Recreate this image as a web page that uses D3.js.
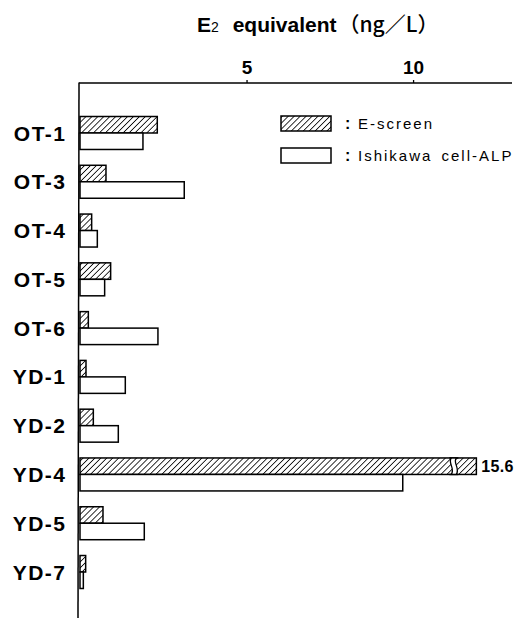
<!DOCTYPE html>
<html><head><meta charset="utf-8">
<script src="https://cdn.jsdelivr.net/npm/d3@7"></script>
<style>
html,body{margin:0;padding:0;background:#fff;}
svg{display:block;font-family:"Liberation Sans",Arial,sans-serif;}
</style></head>
<body>
<svg id="chart" width="515" height="618"></svg>
<script>
const categories = ["OT-1","OT-3","OT-4","OT-5","OT-6","YD-1","YD-2","YD-4","YD-5","YD-7"];
const eScreen    = [2.32, 0.78, 0.35, 0.92, 0.25, 0.18, 0.40, 15.6, 0.69, 0.17];
const ishikawa   = [1.89, 3.13, 0.52, 0.74, 2.34, 1.36, 1.15, 9.69, 1.93, 0.10];
const seriesNames = ["E-screen","Ishikawa cell-ALP"];
const tickValues = [5, 10];
const breakAt = 11.9;      // axis value where broken bars are drawn to
const breakLabel = "15.6";

const svg = d3.select("#chart");
const x = d3.scaleLinear().domain([0, 13]).range([80, 513]);
const y = d3.scaleBand().domain(categories).range([108.6, 596.4]).paddingInner(0.324).paddingOuter(0.162);
const ys = d3.scaleBand().domain(seriesNames).range([0, y.bandwidth()]);

const defs = svg.append("defs");
const pat = defs.append("pattern").attr("id","hatch").attr("patternUnits","userSpaceOnUse")
  .attr("width",4.2).attr("height",4.2).attr("patternTransform","rotate(45)");
pat.append("rect").attr("width",4.2).attr("height",4.2).attr("fill","#fff");
pat.append("line").attr("x1",0).attr("y1",0).attr("x2",0).attr("y2",4.2).attr("stroke","#000").attr("stroke-width",1.6);

// title
const title = svg.append("text").attr("x",197).attr("y",32).attr("font-size",21).attr("font-weight","bold").attr("fill","#000");
title.append("tspan").text("E");
title.append("tspan").attr("font-size",14).attr("font-weight","normal").text("2");
title.append("tspan").attr("dx",8).text(" equivalent");
title.append("tspan").attr("dx",2).attr("font-family","Noto Sans CJK JP, sans-serif").attr("font-weight","500").text("（ng／L）");

// top axis
const ax = d3.axisTop(x).tickValues(tickValues).tickSize(3).tickPadding(6).tickFormat(d3.format("d"));
const gx = svg.append("g").attr("transform","translate(0,83)").call(ax);
gx.select(".domain").attr("d", `M${x(0)-1},0H${x.range()[1]-1}`).attr("stroke-width",1.4);
gx.selectAll(".tick line").attr("stroke-width",1.3);
gx.selectAll(".tick text").attr("font-size",19).attr("font-weight","bold").attr("font-family","Liberation Sans, Arial, sans-serif").attr("fill","#000");

// left axis line
svg.append("line").attr("x1",x(0)-1).attr("x2",x(0)-2).attr("y1",82.5).attr("y2",618).attr("stroke","#000").attr("stroke-width",1.5);

// category labels
svg.append("g").selectAll("text").data(categories).join("text")
  .attr("x",66.5).attr("y",d=>y(d)+y.bandwidth()/2).attr("dy","0.36em")
  .attr("text-anchor","end").attr("font-size",21).attr("font-weight","bold").attr("letter-spacing",1.5).attr("fill","#000")
  .text(d=>d);

// bars
const rows = categories.map((c,i)=>({c, vals:[{s:seriesNames[0], v:eScreen[i]},{s:seriesNames[1], v:ishikawa[i]}]}));
const g = svg.append("g");
rows.forEach(r=>{
  r.vals.forEach(d=>{
    const broken = d.v > breakAt;
    const w = x(broken ? breakAt : d.v) - x(0);
    const yy = y(r.c) + ys(d.s);
    g.append("rect").attr("x",x(0)).attr("y",yy).attr("width",w).attr("height",ys.bandwidth())
      .attr("fill", d.s===seriesNames[0] ? "url(#hatch)" : "#fff")
      .attr("stroke","#000").attr("stroke-width",1.5);
    if (broken) {
      const bx = x(breakAt) - 25, h = ys.bandwidth();
      g.append("path").attr("d", `M${bx},${yy} C${bx-4},${yy+h*0.3} ${bx+4},${yy+h*0.6} ${bx},${yy+h} L${bx+5},${yy+h} C${bx+9},${yy+h*0.6} ${bx+1},${yy+h*0.3} ${bx+5},${yy} Z`)
        .attr("fill","#fff");
      g.append("path").attr("d", `M${bx},${yy} C${bx-4},${yy+h*0.3} ${bx+4},${yy+h*0.6} ${bx},${yy+h}`).attr("fill","none").attr("stroke","#000").attr("stroke-width",1.3);
      g.append("path").attr("d", `M${bx+5},${yy} C${bx+1},${yy+h*0.3} ${bx+9},${yy+h*0.6} ${bx+5},${yy+h}`).attr("fill","none").attr("stroke","#000").attr("stroke-width",1.3);
      g.append("line").attr("x1",bx-2).attr("x2",bx+7).attr("y1",yy).attr("y2",yy).attr("stroke","#000").attr("stroke-width",1.5);
      g.append("line").attr("x1",bx-2).attr("x2",bx+7).attr("y1",yy+h).attr("y2",yy+h).attr("stroke","#000").attr("stroke-width",1.5);
      g.append("text").attr("x",x(breakAt)+5).attr("y",yy+h/2).attr("dy","0.36em")
        .attr("font-size",16).attr("font-weight","bold").attr("letter-spacing",0.3).attr("fill","#000").text(breakLabel);
    }
  });
});

// legend
const leg = svg.append("g");
seriesNames.forEach((s,i)=>{
  const ly = 116 + i*32;
  leg.append("rect").attr("x",281).attr("y",ly).attr("width",50).attr("height",15)
    .attr("fill", i===0 ? "url(#hatch)" : "#fff").attr("stroke","#000").attr("stroke-width",1.5);
  leg.append("text").attr("x",345).attr("y",ly+7.5).attr("dy","0.36em").attr("font-size",16).attr("font-weight","bold").attr("fill","#000").text(":");
  leg.append("text").attr("x",358).attr("y",ly+7.5).attr("dy","0.36em").attr("font-size",15).attr("fill","#000")
    .attr("letter-spacing",2).attr("word-spacing",3).text(s);
});
</script>
</body></html>
